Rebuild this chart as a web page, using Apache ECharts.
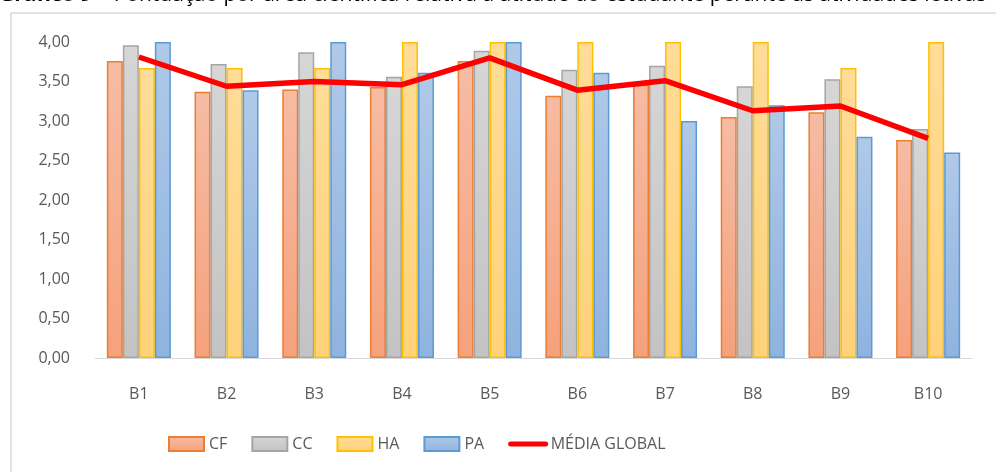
<!DOCTYPE html>
<html>
<head>
<meta charset="utf-8">
<script src="https://cdn.jsdelivr.net/npm/echarts@6/dist/echarts.min.js"></script>
<style>
  html, body { margin: 0; padding: 0; background: #fff; }
  #chart { width: 996px; height: 472px; }
</style>
</head>
<body>
<div id="chart"></div>
<script>
// categorias (blocos)
const categories = ['B1', 'B2', 'B3', 'B4', 'B5', 'B6', 'B7', 'B8', 'B9', 'B10'];
// pontuação por área científica
const dataCF = [3.76, 3.37, 3.40, 3.43, 3.76, 3.32, 3.46, 3.05, 3.11, 2.76];
const dataCC = [3.96, 3.72, 3.87, 3.56, 3.89, 3.65, 3.70, 3.44, 3.53, 2.90];
const dataHA = [3.67, 3.67, 3.67, 4.00, 4.00, 4.00, 4.00, 4.00, 3.67, 4.00];
const dataPA = [4.00, 3.39, 4.00, 3.61, 4.00, 3.61, 3.00, 3.20, 2.80, 2.60];
const dataMedia = [3.81, 3.44, 3.50, 3.46, 3.80, 3.39, 3.51, 3.13, 3.19, 2.78];
const yTicks = [0, 0.5, 1, 1.5, 2, 2.5, 3, 3.5, 4];

const chart = echarts.init(document.getElementById('chart'));
const font = '"Open Sans", "Noto Sans", sans-serif';

function grad(top, bottom) {
    return new echarts.graphic.LinearGradient(0, 0, 0, 1, [
        { offset: 0, color: top },
        { offset: 1, color: bottom }
    ]);
}

function barSeries(name, data, top, bottom, border) {
    return {
        name: name,
        type: 'bar',
        data: data,
        barGap: '0%',
        barCategoryGap: '27%',
        itemStyle: {
            color: grad(top, bottom),
            borderColor: border,
            borderWidth: 1.5
        }
    };
}

const option = {
    animation: false,
    title: {
        text: '{b|Gráfico 9} – Pontuação por área científica relativa à atitude do estudante perante as atividades letivas',
        left: -1,
        top: -15,
        padding: 0,
        textStyle: {
            fontFamily: font,
            fontSize: 21,
            fontWeight: 'normal',
            color: '#000',
            rich: {
                b: {
                    fontFamily: font,
                    fontSize: 21,
                    fontWeight: 'bold',
                    color: '#000'
                }
            }
        }
    },
    graphic: [{
        type: 'rect',
        shape: { x: 11, y: 13, width: 1000, height: 480 },
        style: { fill: 'none', stroke: '#d9d9d9', lineWidth: 1.5 },
        z: -1
    }],
    grid: {
        left: 95,
        right: 24,
        top: 42,
        bottom: 114
    },
    legend: {
        left: 163,
        top: 431,
        itemWidth: 35,
        itemHeight: 14,
        itemGap: 24,
        textStyle: {
            fontFamily: font,
            fontSize: 16,
            color: '#595959'
        },
        data: [
            { name: 'CF', icon: 'rect' },
            { name: 'CC', icon: 'rect' },
            { name: 'HA', icon: 'rect' },
            { name: 'PA', icon: 'rect' },
            {
                name: 'MÉDIA GLOBAL',
                itemStyle: { opacity: 0 },
                lineStyle: { width: 5, cap: 'round' }
            }
        ]
    },
    xAxis: {
        type: 'category',
        data: categories,
        axisLine: { lineStyle: { color: '#d9d9d9', width: 1 } },
        axisTick: { show: false },
        axisLabel: {
            color: '#595959',
            fontFamily: font,
            fontSize: 16,
            margin: 28
        }
    },
    yAxis: {
        type: 'value',
        min: yTicks[0],
        max: yTicks[yTicks.length - 1],
        interval: 0.5,
        splitLine: { show: false },
        axisLine: { show: false },
        axisTick: { show: false },
        axisLabel: {
            color: '#595959',
            fontFamily: font,
            fontSize: 16,
            margin: 25,
            formatter: v => v.toFixed(2).replace('.', ',')
        }
    },
    series: [
        barSeries('CF', dataCF, '#f6bca4', '#f5a17c', '#ed7d31'),
        barSeries('CC', dataCC, '#d6d6d6', '#c3c3c3', '#a5a5a5'),
        barSeries('HA', dataHA, '#ffdc98', '#ffd27a', '#ffc000'),
        barSeries('PA', dataPA, '#b0c9e8', '#8fb3df', '#5b9bd5'),
        {
            name: 'MÉDIA GLOBAL',
            type: 'line',
            data: dataMedia,
            symbol: 'none',
            itemStyle: { color: '#ff0000' },
            lineStyle: { color: '#ff0000', width: 5.5 },
            z: 5
        }
    ]
};

chart.setOption(option);
window.addEventListener('resize', () => {
    chart.resize();
});
</script>
</body>
</html>
